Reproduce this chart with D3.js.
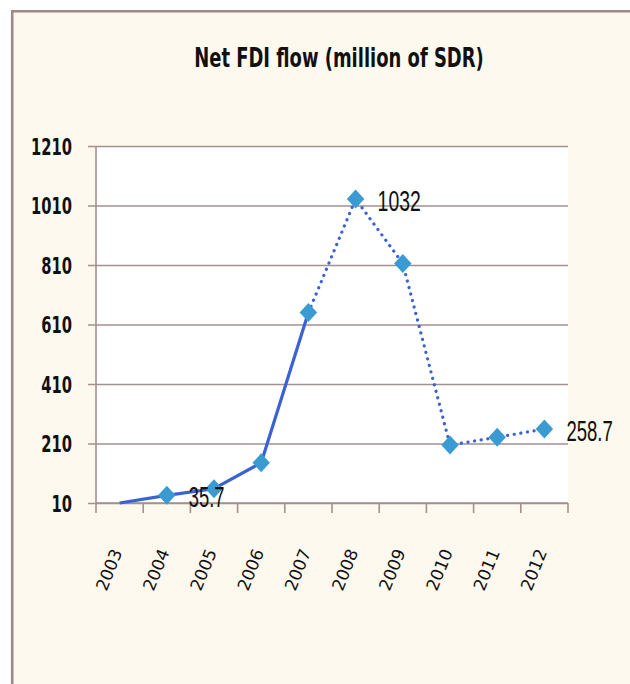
<!DOCTYPE html>
<html>
<head>
<meta charset="utf-8">
<script src="https://cdn.jsdelivr.net/npm/d3@7"></script>
<style>
    body { margin: 0; background: #fff; }
    svg { display: block; }
</style>
</head>
<body>
<div id="chart"></div>
<script>
(function () {
    const years = ['2003', '2004', '2005', '2006', '2007', '2008', '2009', '2010', '2011', '2012'];
    const fdi = [10, 35.7, 58, 145, 650, 1032, 815, 205, 231, 258.7];
    // only these points carry a value label in the original
    const labelled = { '2004': '35.7', '2008': '1032', '2012': '258.7' };
    const yTicks = [10, 210, 410, 610, 810, 1010, 1210];
    const solidUntil = '2007';

    const width = 630, height = 684;
    const plot = { left: 96, right: 568, top: 146, bottom: 503 };

    const gridColour = '#a39090';
    const lineColour = '#3a62d2';
    const markerColour = '#3a9bd2';

    let svg = d3.select('#chart')
                .append('svg')
                .attr('width', width)
                .attr('height', height);

    // frame
    svg.append('rect')
       .attr('x', 11).attr('y', 10)
       .attr('width', width - 11).attr('height', height - 10)
       .attr('fill', '#fef9ee');
    svg.append('path')
       .attr('d', `M12.2,${height} V11.2 H${width}`)
       .attr('fill', 'none')
       .attr('stroke', '#9e8888')
       .attr('stroke-width', 2.6);

    // squeeze text horizontally, the original is a narrow face
    function squeeze(sel, k) {
        sel.each(function () {
            let len = this.getComputedTextLength();
            d3.select(this)
              .attr('textLength', len * k)
              .attr('lengthAdjust', 'spacingAndGlyphs');
        });
    }

    svg.append('text')
       .attr('x', 339)
       .attr('y', 67)
       .attr('text-anchor', 'middle')
       .attr('font-family', 'DejaVu Sans')
       .attr('font-weight', 'bold')
       .attr('font-size', 26)
       .attr('fill', '#111')
       .text('Net FDI flow (million of SDR)')
       .call(squeeze, 0.69);

    let x = d3.scaleBand()
              .domain(years)
              .range([plot.left, plot.right])
              .padding(0);
    let y = d3.scaleLinear()
              .domain([10, 1210])
              .range([plot.bottom, plot.top]);
    let cx = d => x(d) + x.bandwidth() / 2;

    svg.append('rect')
       .attr('x', plot.left).attr('y', plot.top)
       .attr('width', plot.right - plot.left)
       .attr('height', plot.bottom - plot.top)
       .attr('fill', '#fff');

    // y axis with gridlines
    let yAxis = svg.append('g')
                   .attr('transform', `translate(${plot.left}, 0)`)
                   .call(d3.axisLeft(y)
                           .tickValues(yTicks)
                           .tickFormat(d3.format('d'))
                           .tickSize(-(plot.right - plot.left))
                           .tickPadding(24));
    yAxis.select('.domain').remove();
    yAxis.selectAll('.tick line')
         .attr('x1', -8)
         .attr('stroke', gridColour)
         .attr('stroke-width', 1.6);
    yAxis.selectAll('.tick text')
         .attr('font-family', 'DejaVu Sans')
         .attr('font-weight', 'bold')
         .attr('font-size', 23)
         .attr('fill', '#111')
         .attr('dy', '0.36em')
         .call(squeeze, 0.64);

    svg.append('line')
       .attr('x1', plot.left).attr('x2', plot.left)
       .attr('y1', plot.top).attr('y2', plot.bottom)
       .attr('stroke', gridColour)
       .attr('stroke-width', 1.6);

    // x axis: ticks sit on the band edges
    let edges = years.map(d => x(d)).concat([plot.right]);
    svg.append('g')
       .selectAll('line')
       .data(edges)
       .enter()
       .append('line')
       .attr('x1', d => d).attr('x2', d => d)
       .attr('y1', plot.bottom).attr('y2', plot.bottom + 10)
       .attr('stroke', gridColour)
       .attr('stroke-width', 1.6);
    svg.append('line')
       .attr('x1', plot.left).attr('x2', plot.right)
       .attr('y1', plot.bottom).attr('y2', plot.bottom)
       .attr('stroke', gridColour)
       .attr('stroke-width', 1.6);

    svg.append('g')
       .selectAll('text')
       .data(years)
       .enter()
       .append('text')
       .attr('transform', d => `translate(${cx(d) + 3}, 552) rotate(-68)`)
       .attr('text-anchor', 'end')
       .attr('font-family', 'DejaVu Sans')
       .attr('font-size', 17)
       .attr('fill', '#111')
       .text(d => d);

    // line: solid up to 2007, dotted after
    let points = years.map((d, i) => ({ year: d, value: fdi[i] }));
    let split = years.indexOf(solidUntil);
    let line = d3.line()
                 .x(d => cx(d.year))
                 .y(d => y(d.value));

    svg.append('path')
       .datum(points.slice(0, split + 1))
       .attr('d', line)
       .attr('fill', 'none')
       .attr('stroke', lineColour)
       .attr('stroke-width', 3.2)
       .attr('stroke-linejoin', 'round');
    svg.append('path')
       .datum(points.slice(split))
       .attr('d', line)
       .attr('fill', 'none')
       .attr('stroke', lineColour)
       .attr('stroke-width', 3.2)
       .attr('stroke-linecap', 'round')
       .attr('stroke-dasharray', '0.1 6.6');

    // diamonds, the 2003 one is not shown
    svg.append('g')
       .selectAll('path')
       .data(points.slice(1))
       .enter()
       .append('path')
       .attr('d', d3.symbol().type(d3.symbolDiamond).size(135))
       .attr('transform', d => `translate(${cx(d.year)}, ${y(d.value)}) scale(1.4, 0.88)`)
       .attr('fill', markerColour);

    // value labels, scaled narrow with a transform
    svg.append('g')
       .selectAll('text')
       .data(points.filter(d => labelled[d.year] !== undefined))
       .enter()
       .append('text')
       .attr('font-family', 'Liberation Sans Narrow, Liberation Sans')
       .attr('font-size', 29)
       .attr('fill', '#111')
       .text(d => labelled[d.year])
       .attr('transform', function (d) {
           let s = this.textContent;
           let target = s.includes('.') ? (s.length - 1) * 10.6 + 4 : s.length * 10.8;
           let k = target / this.getComputedTextLength();
           return `translate(${cx(d.year) + 22}, ${y(d.value) + 12}) scale(${k}, 1)`;
       });
})();
</script>
</body>
</html>
